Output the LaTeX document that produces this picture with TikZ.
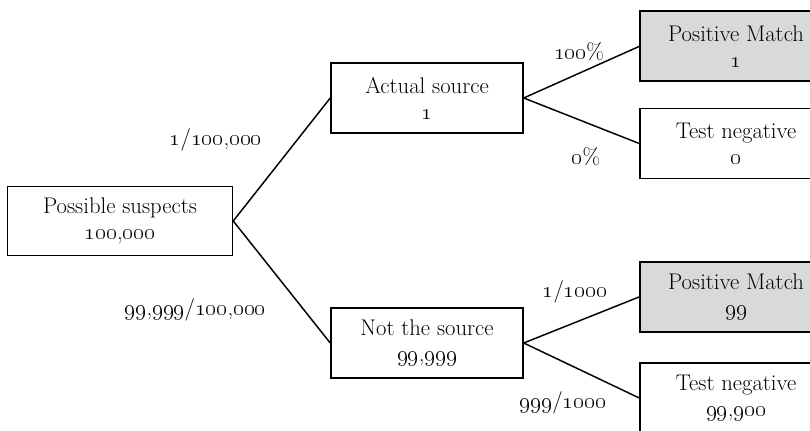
\documentclass[tikz,border=0pt]{standalone}
\newcommand\osn[1]{{\fontsize{18.3}{19.5}\selectfont\oldstylenums{#1}}}
\begin{document}
\begin{tikzpicture}[x=0.75pt,y=-0.75pt,
  box/.style={draw=black,line width=1.1pt,fill=white,align=center,inner sep=0pt,
    minimum width=144pt,minimum height=52.5pt,font=\fontsize{17}{19.5}\selectfont},
  gbox/.style={box,fill=gray!30,line width=1.5pt},
  lab/.style={font=\fontsize{17}{19.5}\selectfont,inner sep=0pt},
  conn/.style={line width=1.1pt}]
\clip (0,0) rectangle (810,431);
\node[box,minimum width=168.75pt,minimum height=51.75pt] (S) at (120,221) {Possible suspects\\\osn{100},\osn{000}};
\node[box] (A) at (427,98) {Actual source\\\osn{1}};
\node[box] (N) at (427,343) {Not the source\\\osn{99},\osn{999}};
\node[gbox] (P1) at (736,46.5) {Positive Match\\\osn{1}};
\node[box] (T0) at (736,143.5) {Test negative\\\osn{0}};
\node[gbox] (P2) at (736,297) {Positive Match\\\osn{99}};
\node[box] (T2) at (736,398) {Test negative\\\osn{99},\osn{900}};
\draw[conn] (S.east) -- (A.west);
\draw[conn] (S.east) -- (N.west);
\draw[conn] (A.east) -- (P1.west);
\draw[conn] (A.east) -- (T0.west);
\draw[conn] (N.east) -- (P2.west);
\draw[conn] (N.east) -- (T2.west);
\node[lab,anchor=east] (l1) at (262,140) {\osn{1}/\osn{100},\osn{000}};
\node[lab,anchor=east] (l2) at (266,310) {\osn{99},\osn{999}/\osn{100},\osn{000}};
\node[lab] (l3) at (579,52) {\osn{100}\%};
\node[lab] (l4) at (586,157) {\osn{0}\%};
\node[lab] (l5) at (575,292) {\osn{1}/\osn{1000}};
\node[lab] (l6) at (563,403) {\osn{999}/\osn{1000}};
\end{tikzpicture}
\end{document}
